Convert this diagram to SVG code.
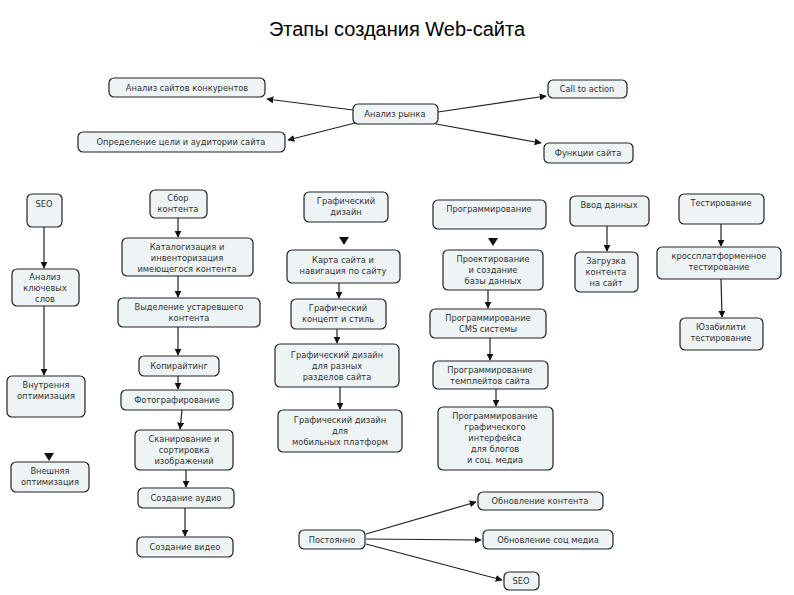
<svg xmlns="http://www.w3.org/2000/svg" width="794" height="595" viewBox="0 0 794 595">
<style>
.b rect{fill:#eef3f5;stroke:#222;stroke-width:1.2}
.b text,.t{font-family:"DejaVu Sans",sans-serif;font-size:8.3px;fill:#333;text-anchor:middle}
.t{font-family:"Liberation Sans",sans-serif;font-size:20px;fill:#000}
#c line{stroke:#222;stroke-width:1.2;marker-end:url(#a)}
</style>
<defs><marker id="a" viewBox="0 0 10 10" refX="9" refY="5" markerWidth="7" markerHeight="7" orient="auto" markerUnits="userSpaceOnUse"><path d="M0,0L10,5L0,10z" fill="#111"/></marker>
<path id="h" d="M-5,-4L5,-4L0,4z" fill="#111"/></defs>
<rect width="794" height="595" fill="#fff"/>
<text class="t" x="397" y="36">Этапы создания Web-сайта</text>
<g id="c">
<line x1="353" y1="110" x2="267" y2="99"/>
<line x1="355" y1="123" x2="288" y2="140"/>
<line x1="438" y1="112" x2="546" y2="96"/>
<line x1="436" y1="124" x2="541" y2="143"/>
<line x1="44" y1="227" x2="44" y2="268"/>
<line x1="44" y1="306" x2="44" y2="375"/>
<use href="#h" x="49" y="457"/>
<line x1="178" y1="218" x2="178" y2="237"/>
<line x1="178" y1="276" x2="178" y2="297"/>
<line x1="178" y1="327" x2="178" y2="355"/>
<line x1="178" y1="376" x2="178" y2="389"/>
<line x1="182" y1="410" x2="180" y2="429"/>
<line x1="186" y1="470" x2="186" y2="487"/>
<line x1="185" y1="508" x2="185" y2="536"/>
<use href="#h" x="344" y="241"/>
<line x1="339" y1="283" x2="339" y2="298"/>
<line x1="337" y1="329" x2="337" y2="343"/>
<line x1="340" y1="387" x2="340" y2="409"/>
<use href="#h" x="493" y="242"/>
<line x1="488" y1="290" x2="488" y2="308"/>
<line x1="490" y1="338" x2="490" y2="360"/>
<line x1="496" y1="389" x2="496" y2="406"/>
<line x1="607" y1="226" x2="607" y2="251"/>
<line x1="721" y1="224" x2="721" y2="246"/>
<line x1="721" y1="279" x2="722" y2="317"/>
<line x1="366" y1="534" x2="476" y2="502"/>
<line x1="366" y1="539" x2="481" y2="540"/>
<line x1="366" y1="544" x2="502" y2="580"/>
</g>
<g id="n1" class="b"><rect x="109" y="78" width="156" height="19" rx="5"/><text x="187" y="91">Анализ сайтов конкурентов</text></g>
<g id="n2" class="b"><rect x="353" y="104" width="85" height="20" rx="5"/><text x="395" y="117">Анализ рынка</text></g>
<g id="n3" class="b"><rect x="78" y="132" width="207" height="20" rx="5"/><text x="181" y="145">Определение цели и аудитории сайта</text></g>
<g id="n4" class="b"><rect x="548" y="80" width="79" height="18" rx="5"/><text x="587" y="92">Call to action</text></g>
<g id="n5" class="b"><rect x="544" y="143" width="89" height="20" rx="5"/><text x="588" y="156">Функции сайта</text></g>
<g id="n6" class="b"><rect x="27" y="194" width="35" height="33" rx="5"/><text x="44" y="207">SEO</text></g>
<g id="n7" class="b"><rect x="12" y="269" width="67" height="37" rx="5"/><text x="45" y="280">Анализ</text><text x="45" y="291">ключевых</text><text x="45" y="302">слов</text></g>
<g id="n8" class="b"><rect x="7" y="376" width="78" height="41" rx="5"/><text x="46" y="388">Внутрення</text><text x="46" y="399">оптимизация</text></g>
<g id="n9" class="b"><rect x="11" y="462" width="78" height="30" rx="5"/><text x="50" y="474">Внешняя</text><text x="50" y="485">оптимизация</text></g>
<g id="n10" class="b"><rect x="150" y="190" width="57" height="28" rx="5"/><text x="178" y="201">Сбор</text><text x="178" y="212">контента</text></g>
<g id="n11" class="b"><rect x="122" y="238" width="131" height="38" rx="5"/><text x="187" y="250">Каталогизация и</text><text x="187" y="261">инвенторизация</text><text x="187" y="272">имеющегося контента</text></g>
<g id="n12" class="b"><rect x="118" y="298" width="142" height="29" rx="5"/><text x="189" y="310">Выделение устаревшего</text><text x="189" y="321">контента</text></g>
<g id="n13" class="b"><rect x="139" y="356" width="80" height="20" rx="5"/><text x="179" y="369">Копирайтинг</text></g>
<g id="n14" class="b"><rect x="121" y="390" width="112" height="20" rx="5"/><text x="177" y="403">Фотографирование</text></g>
<g id="n15" class="b"><rect x="135" y="430" width="98" height="40" rx="5"/><text x="184" y="442">Сканирование и</text><text x="184" y="453">сортировка</text><text x="184" y="464">изображений</text></g>
<g id="n16" class="b"><rect x="138" y="488" width="96" height="20" rx="5"/><text x="186" y="501">Создание аудио</text></g>
<g id="n17" class="b"><rect x="137" y="537" width="96" height="20" rx="5"/><text x="185" y="550">Создание видео</text></g>
<g id="n18" class="b"><rect x="304" y="192" width="84" height="30" rx="5"/><text x="346" y="204">Графический</text><text x="346" y="215">дизайн</text></g>
<g id="n19" class="b"><rect x="287" y="250" width="113" height="33" rx="5"/><text x="343" y="263">Карта сайта и</text><text x="343" y="274">навигация по сайту</text></g>
<g id="n20" class="b"><rect x="291" y="299" width="95" height="30" rx="5"/><text x="338" y="311">Графический</text><text x="338" y="322">концепт и стиль</text></g>
<g id="n21" class="b"><rect x="275" y="344" width="124" height="43" rx="5"/><text x="337" y="358">Графический дизайн</text><text x="337" y="369">для разных</text><text x="337" y="380">разделов сайта</text></g>
<g id="n22" class="b"><rect x="278" y="410" width="124" height="42" rx="5"/><text x="340" y="423">Графический дизайн</text><text x="340" y="434">для</text><text x="340" y="445">мобильных платформ</text></g>
<g id="n23" class="b"><rect x="433" y="200" width="113" height="29" rx="5"/><text x="489" y="212">Программирование</text></g>
<g id="n24" class="b"><rect x="443" y="250" width="100" height="40" rx="5"/><text x="493" y="262">Проектирование</text><text x="493" y="273">и создание</text><text x="493" y="284">базы данных</text></g>
<g id="n25" class="b"><rect x="430" y="309" width="116" height="29" rx="5"/><text x="488" y="321">Программирование</text><text x="488" y="332">CMS системы</text></g>
<g id="n26" class="b"><rect x="433" y="361" width="115" height="28" rx="5"/><text x="490" y="373">Программирование</text><text x="490" y="384">темплейтов сайта</text></g>
<g id="n27" class="b"><rect x="438" y="407" width="115" height="63" rx="5"/><text x="495" y="419">Программирование</text><text x="495" y="430">графического</text><text x="495" y="441">интерфейса</text><text x="495" y="452">для блогов</text><text x="495" y="463">и соц. медиа</text></g>
<g id="n28" class="b"><rect x="570" y="196" width="79" height="30" rx="5"/><text x="609" y="208">Ввод данных</text></g>
<g id="n29" class="b"><rect x="575" y="252" width="63" height="40" rx="5"/><text x="606" y="264">Загрузка</text><text x="606" y="275">контента</text><text x="606" y="286">на сайт</text></g>
<g id="n30" class="b"><rect x="679" y="194" width="85" height="30" rx="5"/><text x="721" y="206">Тестирование</text></g>
<g id="n31" class="b"><rect x="657" y="247" width="124" height="32" rx="5"/><text x="719" y="259">кроссплатформенное</text><text x="719" y="270">тестирование</text></g>
<g id="n32" class="b"><rect x="680" y="318" width="83" height="32" rx="5"/><text x="721" y="330">Юзабилити</text><text x="721" y="341">тестирование</text></g>
<g id="n33" class="b"><rect x="299" y="530" width="66" height="19" rx="5"/><text x="332" y="543">Постоянно</text></g>
<g id="n34" class="b"><rect x="478" y="492" width="125" height="18" rx="5"/><text x="540" y="504">Обновление контента</text></g>
<g id="n35" class="b"><rect x="483" y="530" width="130" height="19" rx="5"/><text x="548" y="543">Обновление соц медиа</text></g>
<g id="n36" class="b"><rect x="504" y="572" width="35" height="18" rx="5"/><text x="521" y="584">SEO</text></g>
</svg>
